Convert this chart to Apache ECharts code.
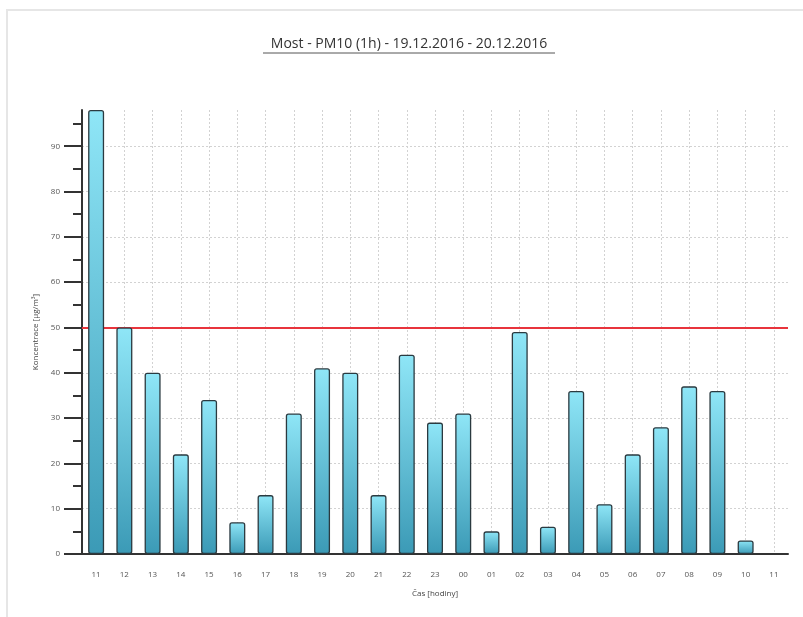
<!DOCTYPE html>
<html>
<head>
<meta charset="utf-8">
<script src="https://cdn.jsdelivr.net/npm/echarts@6/dist/echarts.min.js"></script>
<style>
  html, body { margin: 0; padding: 0; background: #fff; }
  #chart { width: 803px; height: 617px; }
</style>
</head>
<body>
<div id="chart"></div>
<script>
const hours = ['11', '12', '13', '14', '15', '16', '17', '18', '19', '20', '21', '22', '23',
  '00', '01', '02', '03', '04', '05', '06', '07', '08', '09', '10', '11 ']
const pm10 = [98, 50, 40, 22, 34, 7, 13, 31, 41, 40, 13, 44, 29,
  31, 5, 49, 6, 36, 11, 22, 28, 37, 36, 3, null]
const yTicks = [0, 10, 20, 30, 40, 50, 60, 70, 80, 90]
const limit = 50
const titleText = 'Most - PM10 (1h) - 19.12.2016 - 20.12.2016'

const chart = echarts.init(document.getElementById('chart'))

const font = '"Open Sans", "DejaVu Sans", sans-serif'
const dotted = { color: '#d2d2d2', type: [2, 2], width: 1 }

chart.setOption({
  animation: false,
  textStyle: { fontFamily: font },
  graphic: [
    {
      type: 'rect',
      shape: { x: 7, y: 10, width: 800, height: 620 },
      style: { fill: 'none', stroke: '#e6e6e6', lineWidth: 2 }
    },
    {
      type: 'text',
      x: 409, y: 44,
      style: {
        text: titleText, fontSize: 14, fill: '#333', fontFamily: font,
        align: 'center', verticalAlign: 'middle'
      }
    },
    {
      type: 'line',
      shape: { x1: 263, y1: 53, x2: 555, y2: 53 },
      style: { stroke: '#555', lineWidth: 1 }
    }
  ],
  grid: { left: 82, right: 15, top: 110, bottom: 63 },
  xAxis: {
    type: 'category',
    data: hours,
    name: 'Čas [hodiny]',
    nameLocation: 'middle',
    nameGap: 36,
    nameTextStyle: { fontSize: 8, color: '#444' },
    axisLine: { lineStyle: { color: '#333', width: 2 } },
    axisTick: { alignWithLabel: true, length: 6, lineStyle: { color: '#333', width: 2 } },
    axisLabel: { fontSize: 8, color: '#555', margin: 17, formatter: v => v.trim() },
    splitLine: { show: true, alignWithLabel: true, lineStyle: dotted }
  },
  yAxis: {
    type: 'value',
    min: 0,
    max: 98,
    interval: 10,
    name: 'Koncentrace [µg/m³]',
    nameLocation: 'middle',
    nameGap: 34,
    nameTextStyle: { fontSize: 8, color: '#444' },
    axisLine: { show: true, lineStyle: { color: '#333', width: 2 } },
    axisTick: { show: true, length: 18, customValues: yTicks, lineStyle: { color: '#333', width: 2 } },
    minorTick: { show: true, splitNumber: 2, length: 9, lineStyle: { color: '#333', width: 2 } },
    axisLabel: { fontSize: 8, color: '#555', margin: 22, customValues: yTicks },
    splitLine: { lineStyle: dotted }
  },
  series: [
    {
      type: 'bar',
      data: pm10,
      barWidth: 16,
      z: 3,
      itemStyle: {
        borderColor: '#2b3a40',
        borderWidth: 1.3,
        borderRadius: 2,
        color: new echarts.graphic.LinearGradient(0, 0, 0, 1, [
          { offset: 0, color: '#8fe6f7' },
          { offset: 1, color: '#3b9ab6' }
        ])
      },
      markLine: {
        silent: true,
        z: 1,
        symbol: 'none',
        label: { show: false },
        lineStyle: { color: '#e8343c', width: 2, type: 'solid' },
        data: [{ yAxis: limit }]
      }
    }
  ]
})
</script>
</body>
</html>
